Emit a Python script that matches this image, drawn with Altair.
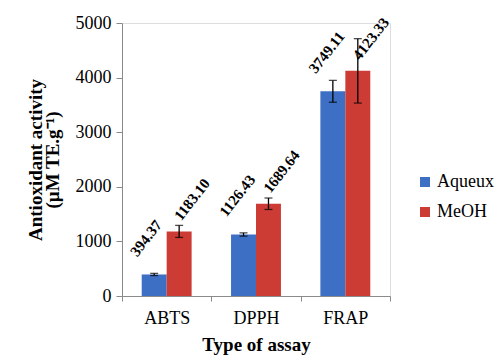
import altair as alt
import pandas as pd

assays = ["ABTS", "DPPH", "FRAP"]
extracts = ["Aqueux", "MeOH"]
aqueux_values = [394.37, 1126.43, 3749.11]
meoh_values = [1183.10, 1689.64, 4123.33]
aqueux_err = [20, 30, 200]
meoh_err = [110, 105, 590]
y_ticks = list(range(0, 5001, 500))

rows = []
for i, a in enumerate(assays):
    for ext, vals, errs in (("Aqueux", aqueux_values, aqueux_err), ("MeOH", meoh_values, meoh_err)):
        v = vals[i]
        e = errs[i]
        rows.append({"assay": a, "extract": ext, "value": v, "lo": v - e, "hi": v + e,
                     "label": f"{v:.2f}"})
df = pd.DataFrame(rows)

SERIF = "Times New Roman, Liberation Serif, serif"

x = alt.X("assay:N", sort=assays,
          scale=alt.Scale(paddingInner=0, paddingOuter=0),
          axis=alt.Axis(title="Type of assay", labelAngle=0, tickBand="extent",
                        domainColor="#8a8a8a", tickColor="#8a8a8a", tickSize=5,
                        labelPadding=8, labelFont=SERIF, labelFontSize=18, labelColor="black",
                        titleFont=SERIF, titleFontSize=19, titleFontWeight="bold",
                        titleColor="black", titlePadding=8))
xo = alt.XOffset("extract:N", sort=extracts,
                 scale=alt.Scale(paddingInner=0, paddingOuter=0.79))
yscale = alt.Scale(domain=[0, 5000], nice=False)

bars = alt.Chart(df).mark_bar().encode(
    x=x,
    xOffset=xo,
    y=alt.Y("value:Q", scale=yscale,
            axis=alt.Axis(values=y_ticks, format="d", grid=False, domainColor="#8a8a8a",
                          tickColor="#8a8a8a", tickSize=6, labelPadding=5,
                          labelFont=SERIF, labelFontSize=18, labelColor="black",
                          title=["Antioxidant activity", "(µM TE.g⁻¹)"],
                          titleFont=SERIF, titleFontSize=19, titleFontWeight="bold",
                          titleColor="black", titlePadding=13, titleLineHeight=17)),
    color=alt.Color("extract:N", sort=extracts,
                    scale=alt.Scale(domain=extracts, range=["#3d6fc4", "#cd3b35"]),
                    legend=alt.Legend(title=None, orient="none", legendX=294, legendY=150,
                                      symbolType="square", symbolSize=100,
                                      symbolStrokeWidth=0, labelFont=SERIF,
                                      labelFontSize=18, labelColor="black",
                                      rowPadding=12, labelOffset=3, padding=0)),
)

rules = alt.Chart(df).mark_rule(color="black", strokeWidth=1.3).encode(
    x=alt.X("assay:N", sort=assays), xOffset=xo,
    y=alt.Y("lo:Q", scale=yscale), y2="hi:Q")

cap_hi = alt.Chart(df).mark_tick(color="black", size=8, thickness=1.3).encode(
    x=alt.X("assay:N", sort=assays), xOffset=xo, y=alt.Y("hi:Q", scale=yscale))
cap_lo = alt.Chart(df).mark_tick(color="black", size=8, thickness=1.3).encode(
    x=alt.X("assay:N", sort=assays), xOffset=xo, y=alt.Y("lo:Q", scale=yscale))

label_enc = dict(x=alt.X("assay:N", sort=assays), xOffset=xo,
                 y=alt.Y("value:Q", scale=yscale), text="label:N")
text_style = dict(angle=308, align="left", baseline="alphabetic", font=SERIF,
                  fontSize=15, fontWeight="bold", color="black")

# dx/dy act in the rotated text frame; this pair shifts the blue labels ~17px left
labels_aq = alt.Chart(df).transform_filter(alt.datum.extract == "Aqueux").mark_text(
    dx=-10.5, dy=-13.4, yOffset=-17, **text_style).encode(**label_enc)
labels_me = alt.Chart(df).transform_filter(alt.datum.extract == "MeOH").mark_text(
    dx=1.2, dy=1.6, yOffset=-10, **text_style).encode(**label_enc)

chart = alt.layer(bars, rules, cap_hi, cap_lo, labels_aq, labels_me).properties(
    width=268, height=273,
    autosize=alt.AutoSizeParams(type="none"),
    padding={"left": 114, "top": 15, "right": 106, "bottom": 59},
).configure_view(stroke=None).configure(background="white")

chart.save("out.html", embed_options={"renderer": "svg", "actions": False})
